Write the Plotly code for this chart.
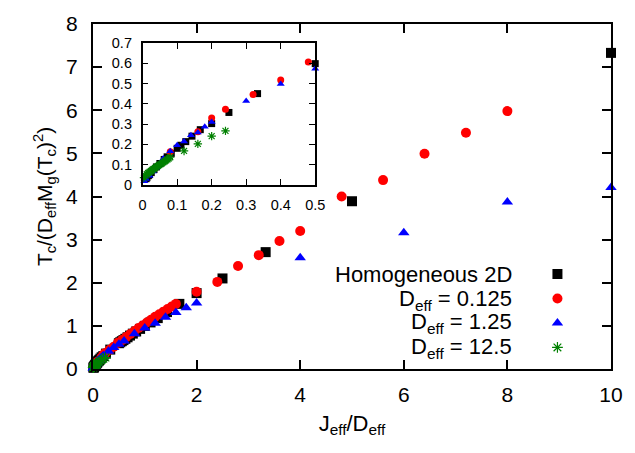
import plotly.graph_objects as go

# ---------------- data ----------------
hom_x = [0.01, 0.0125, 0.0167, 0.02, 0.025, 0.033, 0.04, 0.05, 0.0625, 0.071, 0.083, 0.1, 0.111, 0.125,
         0.143, 0.167, 0.2, 0.25, 0.333, 0.5, 0.526, 0.556, 0.588, 0.625, 0.667, 0.714, 0.769, 0.833,
         0.909, 1.0, 1.111, 1.25, 1.429, 1.667, 2.0, 2.5, 3.333, 5.0, 10.0]
hom_y = [0.03, 0.035, 0.045, 0.05, 0.06, 0.075, 0.088, 0.105, 0.125, 0.138, 0.155, 0.18, 0.195, 0.213,
         0.24, 0.272, 0.302, 0.357, 0.45, 0.598, 0.62, 0.645, 0.67, 0.70, 0.735, 0.775, 0.82, 0.87,
         0.93, 1.0, 1.08, 1.18, 1.32, 1.51, 1.76, 2.10, 2.71, 3.89, 7.33]

d0125_x = [0.08, 0.16, 0.2, 0.24, 0.32, 0.4, 0.48, 0.56, 0.64, 0.72, 0.8, 0.88, 0.96, 1.04, 1.12, 1.2,
           1.28, 1.36, 1.44, 1.52, 1.6, 2.0, 2.4, 2.8, 3.2, 3.6, 4.0, 4.8, 5.6, 6.4, 7.2, 8.0]
d0125_y = [0.163, 0.262, 0.33, 0.373, 0.446, 0.517, 0.606, 0.67, 0.74, 0.81, 0.88, 0.95, 1.01, 1.08,
           1.14, 1.21, 1.27, 1.33, 1.39, 1.45, 1.51, 1.79, 2.02, 2.39, 2.64, 2.97, 3.2, 4.0, 4.38,
           4.99, 5.48, 5.98]

d125_x = [0.005, 0.01, 0.02, 0.03, 0.04, 0.05, 0.06, 0.08, 0.1, 0.12, 0.14, 0.16, 0.18, 0.2, 0.3, 0.4,
          0.5, 0.6, 0.8, 1.0, 1.2, 1.4, 1.6, 1.8, 2.0, 4.0, 6.0, 8.0, 10.0]
d125_y = [0.018, 0.028, 0.045, 0.065, 0.085, 0.105, 0.13, 0.166, 0.195, 0.214, 0.245, 0.258, 0.286,
          0.31, 0.413, 0.498, 0.573, 0.65, 0.82, 0.95, 1.06, 1.2, 1.31, 1.42, 1.53, 2.58, 3.16, 3.87, 4.21]

d125b_x = [0.004, 0.008, 0.012, 0.016, 0.02, 0.024, 0.028, 0.032, 0.036, 0.04, 0.044, 0.048, 0.052,
           0.056, 0.06, 0.064, 0.068, 0.072, 0.076, 0.08, 0.12, 0.16, 0.2, 0.24]
d125b_y = [0.035, 0.045, 0.052, 0.058, 0.063, 0.068, 0.073, 0.078, 0.083, 0.088, 0.093, 0.097, 0.102,
           0.106, 0.111, 0.116, 0.12, 0.125, 0.13, 0.136, 0.167, 0.202, 0.24, 0.266]

labels = ["Homogeneous 2D", "D<sub>eff</sub> = 0.125", "D<sub>eff</sub> = 1.25", "D<sub>eff</sub> = 12.5"]

main_x_ticks = [0, 2, 4, 6, 8, 10]
main_y_ticks = [0, 1, 2, 3, 4, 5, 6, 7, 8]
inset_x_ticks = [0, 0.1, 0.2, 0.3, 0.4, 0.5]
inset_y_ticks = [0, 0.1, 0.2, 0.3, 0.4, 0.5, 0.6, 0.7]

# ---------------- styles ----------------
series = [
    (hom_x, hom_y, dict(symbol="square", color="black"), 10, 7),
    (d0125_x, d0125_y, dict(symbol="circle", color="#ff0000"), 10, 7),
    (d125_x, d125_y, dict(symbol="triangle-up", color="#0000ff"), 10, 7),
    (d125b_x, d125b_y, dict(symbol="asterisk-open", color="#008000",
                            line=dict(color="#008000", width=1.2)), 9, 7),
]

FONT = "Liberation Sans, Arial, sans-serif"
fig = go.Figure()

for (xs, ys, mk, s_main, s_in), lab in zip(series, labels):
    fig.add_trace(go.Scatter(x=xs, y=ys, mode="markers", name=" ",
                             marker=dict(size=s_main, **mk), cliponaxis=False,
                             xaxis="x", yaxis="y", showlegend=True))
for (xs, ys, mk, s_main, s_in), lab in zip(series, labels):
    xi = [a for a, b in zip(xs, ys) if a <= 0.5 and b <= 0.7]
    yi = [b for a, b in zip(xs, ys) if a <= 0.5 and b <= 0.7]
    fig.add_trace(go.Scatter(x=xi, y=yi, mode="markers", name=lab,
                             marker=dict(size=s_in, **mk), cliponaxis=False,
                             xaxis="x2", yaxis="y2", showlegend=False))

axis_common = dict(showgrid=False, zeroline=False, showline=True, linecolor="black",
                   mirror="ticks", ticks="inside", tickcolor="black")

fig.update_layout(
    width=635, height=453,
    margin=dict(l=93, r=17, t=13, b=84),
    paper_bgcolor="white", plot_bgcolor="white",
    font=dict(family=FONT, color="black"),
    xaxis=dict(range=[0, 10], tickvals=main_x_ticks, ticklen=9, tickwidth=1.5, linewidth=2,
               tickfont=dict(size=21), ticklabelstandoff=6, domain=[0, 1],
               title=dict(text="J<sub>eff</sub>/D<sub>eff</sub>", font=dict(size=22), standoff=10),
               **axis_common),
    yaxis=dict(range=[0, 8], tickvals=main_y_ticks, ticklen=9, tickwidth=1.5, linewidth=2,
               tickfont=dict(size=21), ticklabelstandoff=9, domain=[0, 1],
               title=dict(text="T<sub>c</sub>/(D<sub>eff</sub>M<sub>g</sub>(T<sub>c</sub>)<sup>2</sup>)",
                          font=dict(size=21), standoff=8),
               **axis_common),
    xaxis2=dict(range=[0, 0.5], tickvals=inset_x_ticks, ticklen=6, tickwidth=1, linewidth=1.5,
                tickfont=dict(size=14.5), ticklabelstandoff=6, domain=[0.0958, 0.429],
                anchor="y2", **axis_common),
    yaxis2=dict(range=[0, 0.7], tickvals=inset_y_ticks, ticklen=6, tickwidth=1, linewidth=1.5,
                tickfont=dict(size=14.5), ticklabelstandoff=6, domain=[0.534, 0.945],
                anchor="x2", **axis_common),
    legend=dict(x=0.858, y=0.325, xanchor="left", yanchor="top", bgcolor="rgba(0,0,0,0)",
                font=dict(size=16.5), tracegroupgap=0, itemwidth=30),
)

# legend labels, right aligned to the left of the symbols
label_y = [0.275, 0.200, 0.133, 0.062]
for lab, yy in zip(labels, label_y):
    fig.add_annotation(text=lab, xref="paper", yref="paper", x=0.812, y=yy,
                       xanchor="right", yanchor="middle", showarrow=False,
                       font=dict(size=22, family=FONT))

fig.write_html("out.html")
